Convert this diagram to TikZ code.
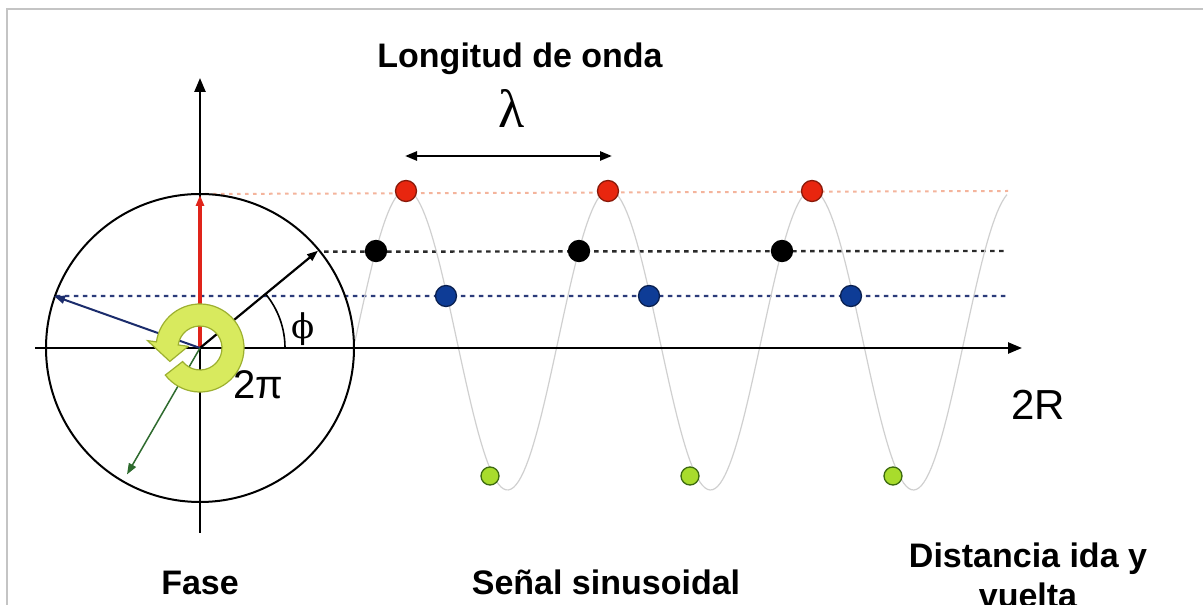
\documentclass[tikz,border=0pt]{standalone}
\usepackage{fontspec}
\setmainfont{Liberation Sans}
\newfontfamily\serifgreek{Liberation Serif}
\newfontfamily\dejaserif{DejaVu Serif}
\usetikzlibrary{arrows.meta,calc}
\definecolor{dotred}{HTML}{E8260F}
\definecolor{dotredline}{HTML}{8A1A0A}
\definecolor{dotblue}{HTML}{0E3C96}
\definecolor{dotblueline}{HTML}{0A2050}
\definecolor{dotgreen}{HTML}{A8DC2C}
\definecolor{dotgreenline}{HTML}{3C6A10}
\definecolor{redguide}{HTML}{F4B49C}
\definecolor{blackguide}{HTML}{2A2A2A}
\definecolor{blueguide}{HTML}{2B3B7A}
\definecolor{redarrow}{HTML}{E0241A}
\definecolor{bluearrow}{HTML}{1B2C6C}
\definecolor{greenarrow}{HTML}{2E6B2E}
\definecolor{ringfill}{HTML}{D8EA5E}
\definecolor{ringline}{HTML}{9DB030}
\definecolor{wavegray}{HTML}{D0D0D0}
\definecolor{bordergray}{HTML}{C4C4C4}
\begin{document}
\begin{tikzpicture}[x=1pt,y=1pt,
  axis/.style={line width=2.4pt,-{Triangle[length=14pt,width=11pt]}},
  phasor/.style={-{Triangle[length=11pt,width=8pt]}},
  guide/.style={line width=2.4pt,dash pattern=on 4.5pt off 4.5pt},
  dotbase/.style={circle,inner sep=0pt,minimum size=21pt,line width=1.3pt,draw},
  reddot/.style={dotbase,fill=dotred,draw=dotredline},
  blackdot/.style={dotbase,fill=black,draw=black},
  bluedot/.style={dotbase,fill=dotblue,draw=dotblueline},
  greendot/.style={dotbase,minimum size=18pt,fill=dotgreen,draw=dotgreenline},
  title/.style={font=\fontsize{34}{40}\selectfont\bfseries,inner sep=0pt},
  plain/.style={inner sep=0pt}
]
\useasboundingbox (0,0) rectangle (1203,605);
\clip (0,0) rectangle (1203,605);
\fill[white] (0,0) rectangle (1203,605);
% frame
\draw[line width=2pt,bordergray] (6.5,0) -- (6.5,595.5) -- (1203,595.5);

% key points
\coordinate (C) at (200,257);
\coordinate (Vb) at (200,72);
\coordinate (Vt) at (200,527);
\coordinate (Hl) at (35,257);
\coordinate (Hr) at (1022,257);
\coordinate (Rtip) at ($(C)+(90:153)$);
\coordinate (Ktip) at ($(C)+(39.5:153)$);
\coordinate (Btip) at ($(C)+(160.4:155)$);
\coordinate (Gtip) at ($(C)+(240:146)$);
\coordinate (Rend) at (1008,414);
\coordinate (Kend) at (1005,354);
\coordinate (Bend) at (1007,309);
\coordinate (L0) at (405,449);
\coordinate (L1) at (612,449);

% guide lines
\draw[guide,redguide,line width=2pt,dash pattern=on 3.5pt off 4.5pt] ($(Rtip)+(5,1)$) -- (Rend);
\draw[guide,blackguide] ($(Ktip)+(6,-1)$) -- (Kend);
\draw[guide,blueguide,line width=2.1pt] ($(Btip)+(2,0)$) -- (Bend);

% sinusoid
\draw[wavegray,line width=1.2pt] plot[domain=355:1007,samples=260] (\x,{265+150*cos(1.773399*(\x-406))});

% axes and circle
\draw[axis] (Vb) -- (Vt);
\draw[axis] (Hl) -- (Hr);
\draw[line width=2pt] (C) circle[radius=154];
\draw[line width=1.6pt] ($(C)+(0:85)$) arc[start angle=0,end angle=39.5,radius=85];

% phasors
\draw[phasor,redarrow,line width=3.5pt] (C) -- (Rtip);
\draw[phasor,black,line width=2.2pt] (C) -- (Ktip);
\draw[phasor,bluearrow,line width=2pt] (C) -- (Btip);
\draw[phasor,greenarrow,line width=1.5pt] (C) -- (Gtip);

% circular arrow 2pi
\filldraw[fill=ringfill,draw=ringline,line width=1.2pt]
  ($(C)+(218:44)$) arc[start angle=218,end angle=532,radius=44]
  -- ($(C)+(532:53)$) -- ($(C)+(564:33)$) -- ($(C)+(532:12)$)
  -- ($(C)+(532:22)$) arc[start angle=532,end angle=218,radius=22] -- cycle;

% dots
\node[reddot] (r1) at (406,414) {};
\node[reddot] (r2) at (608,414) {};
\node[reddot] (r3) at (812,414) {};
\node[blackdot] (k1) at (376,354) {};
\node[blackdot] (k2) at (579,354) {};
\node[blackdot] (k3) at (782,354) {};
\node[bluedot] (b1) at (446,309) {};
\node[bluedot] (b2) at (649,309) {};
\node[bluedot] (b3) at (851,309) {};
\node[greendot] (g1) at (490,129) {};
\node[greendot] (g2) at (690,129) {};
\node[greendot] (g3) at (893,129) {};

% wavelength
\draw[line width=2.5pt,{Triangle[length=12pt,width=9pt]}-{Triangle[length=12pt,width=9pt]}] (L0) -- (L1);

% texts
\node[title,anchor=base] (tlong) at (520,537) {Longitud de onda};
\node[plain,anchor=base,font=\serifgreek\fontsize{54}{60}\selectfont] (tlam) at (512,477) {λ};
\node[plain,anchor=base,font=\dejaserif\fontsize{34}{38}\selectfont] (tphi) at (303,266) {ϕ};
\node[plain,anchor=base,font=\fontsize{40}{44}\selectfont] (ttwopi) at (258,206) {2π};
\node[plain,anchor=base,font=\fontsize{42}{46}\selectfont] (ttwoR) at (1038,185) {2R};
\node[title,anchor=base] (tfase) at (200,10) {Fase};
\node[title,anchor=base] (tsenal) at (606,10) {Señal sinusoidal};
\node[title,anchor=base] (tdist) at (1028,37) {Distancia ida y};
\node[title,anchor=base] (tvuelta) at (1028,-3) {vuelta};
\end{tikzpicture}
\end{document}
